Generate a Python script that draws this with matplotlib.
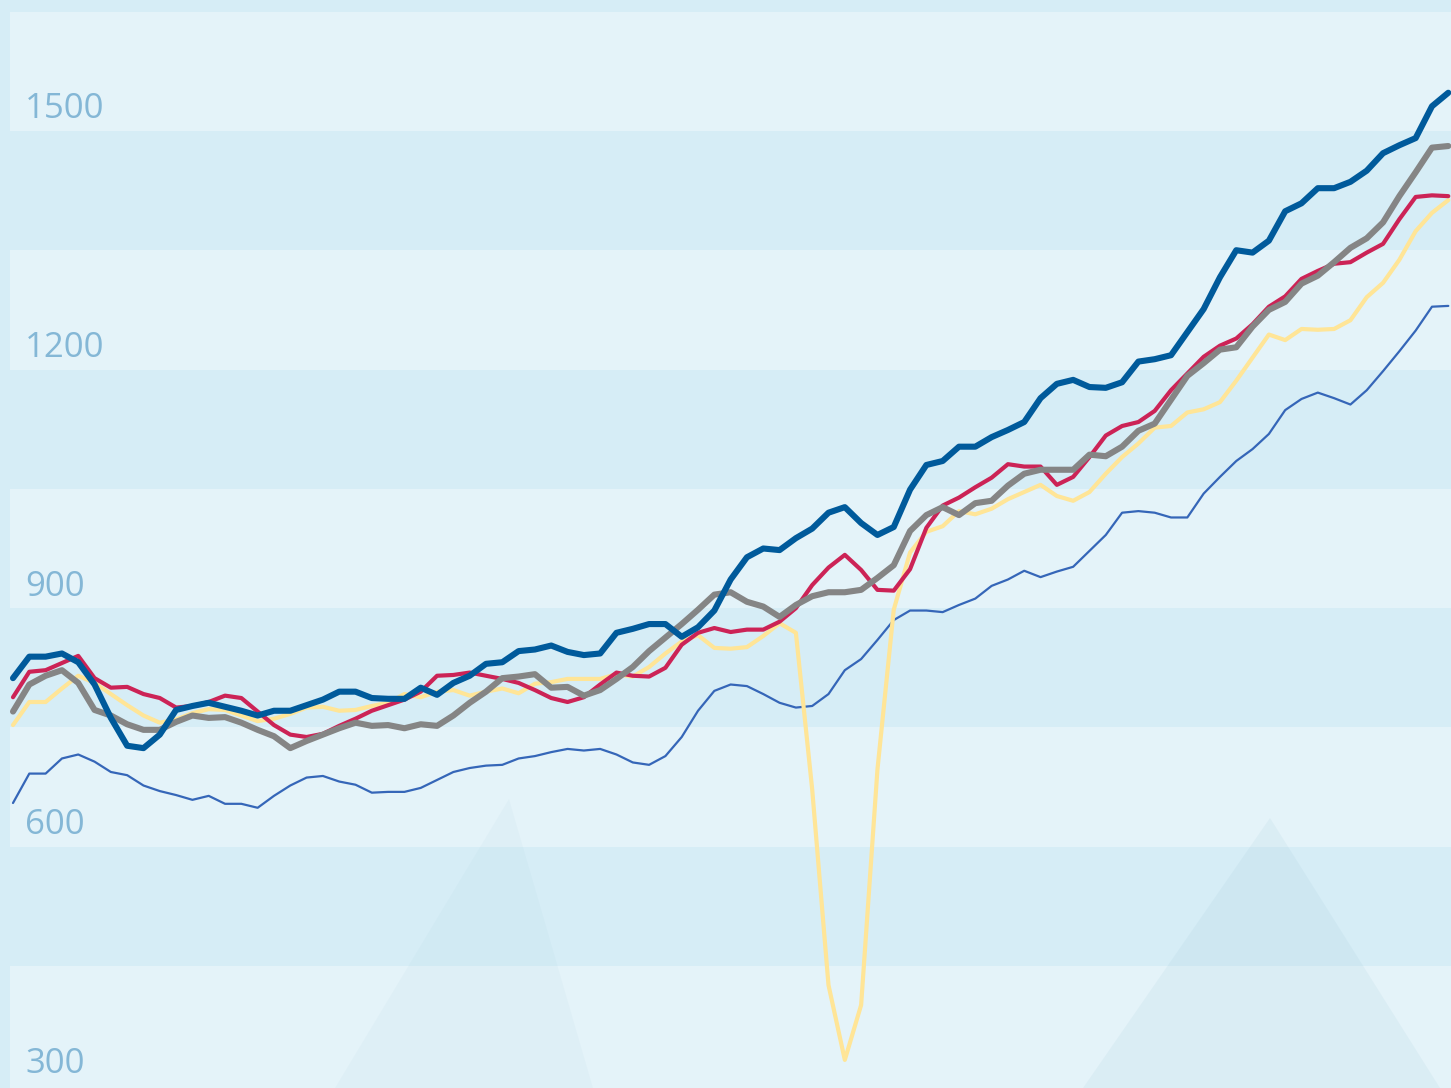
import matplotlib
matplotlib.use("Agg")
import matplotlib.pyplot as plt
from matplotlib.patches import Polygon

# x = sample index (roughly every second month), y = value
x_idx = list(range(89))

navy = [812, 839, 839, 843, 832, 804, 762, 727, 724, 741,
        772, 777, 781, 776, 771, 765, 771, 771, 778, 785,
        795, 795, 787, 786, 786, 800, 791, 806, 815, 830,
        832, 846, 848, 853, 845, 841, 843, 869, 874, 880,
        880, 864, 876, 897, 936, 964, 975, 973, 988, 1000,
        1020, 1027, 1007, 992, 1002, 1049, 1080, 1085, 1103, 1103,
        1115, 1124, 1134, 1164, 1182, 1187, 1178, 1177, 1184, 1210,
        1213, 1218, 1247, 1276, 1316, 1350, 1347, 1362, 1399, 1409,
        1428, 1428, 1436, 1450, 1472, 1482, 1491, 1531, 1548]

crimson = [788, 820, 822, 831, 840, 812, 800, 801, 792, 787,
           775, 777, 782, 790, 787, 770, 753, 741, 738, 742,
           752, 761, 771, 778, 785, 795, 815, 816, 819, 815,
           811, 806, 797, 787, 782, 788, 804, 819, 815, 814,
           825, 854, 869, 875, 870, 873, 873, 883, 900, 929,
           951, 967, 948, 923, 922, 949, 1001, 1029, 1039, 1052,
           1064, 1081, 1078, 1078, 1055, 1065, 1090, 1117, 1129, 1134,
           1148, 1174, 1195, 1216, 1230, 1239, 1257, 1279, 1292, 1314,
           1324, 1333, 1335, 1347, 1358, 1389, 1417, 1419, 1418]

grey = [770, 804, 815, 822, 806, 772, 765, 754, 747, 747,
        757, 765, 762, 763, 756, 747, 739, 724, 733, 741,
        749, 756, 752, 753, 749, 754, 752, 765, 781, 795,
        812, 814, 817, 800, 801, 790, 797, 811, 826, 846,
        863, 880, 898, 917, 920, 908, 902, 889, 904, 915,
        920, 920, 923, 938, 954, 997, 1017, 1027, 1017, 1032,
        1035, 1054, 1069, 1074, 1074, 1074, 1093, 1091, 1103, 1123,
        1132, 1162, 1192, 1208, 1225, 1228, 1254, 1275, 1285, 1308,
        1318, 1335, 1353, 1365, 1385, 1418, 1448, 1479, 1481]

yellow = [753, 782, 782, 799, 815, 806, 792, 778, 765, 756,
          760, 768, 773, 772, 765, 758, 761, 767, 775, 776,
          771, 772, 777, 781, 792, 788, 795, 797, 790, 795,
          799, 793, 805, 807, 811, 811, 811, 817, 814, 826,
          843, 858, 866, 850, 849, 851, 865, 881, 869, 672,
          426, 332, 401, 697, 898, 970, 996, 1003, 1022, 1018,
          1025, 1037, 1046, 1055, 1041, 1035, 1046, 1069, 1090, 1107,
          1127, 1129, 1146, 1150, 1159, 1186, 1215, 1244, 1237, 1251,
          1250, 1251, 1262, 1291, 1309, 1338, 1374, 1397, 1413]

steel = [655, 692, 692, 711, 716, 707, 694, 690, 677, 670,
         665, 659, 664, 654, 654, 649, 664, 677, 687, 689,
         682, 678, 668, 669, 669, 674, 684, 694, 699, 702,
         703, 711, 714, 719, 723, 721, 723, 716, 706, 703,
         714, 738, 771, 796, 804, 802, 792, 781, 775, 777,
         792, 822, 836, 860, 885, 897, 897, 895, 904, 912,
         928, 936, 947, 939, 946, 952, 972, 992, 1020, 1022,
         1020, 1014, 1014, 1044, 1065, 1085, 1100, 1119, 1149, 1163,
         1171, 1164, 1156, 1174, 1198, 1223, 1249, 1279, 1280]

tick_values = [300, 600, 900, 1200, 1500]
tick_labels = ["300", "600", "900", "1200", "1500"]

DARK = "#d6edf6"
LIGHT = "#e4f3f9"
W, H = 1451, 1088
Y_MIN, Y_MAX = 296.7, 1664.6

fig = plt.figure(figsize=(W / 100, H / 100), dpi=100)
fig.patch.set_facecolor(DARK)
ax = fig.add_axes([10 / W, 0, 1441 / W, 1])
ax.set_axis_off()
ax.set_xlim(-0.184, 88.166)
ax.set_ylim(Y_MIN, Y_MAX)

# alternating bands
for v in tick_values:
    lo = Y_MIN if v == tick_values[0] else v
    ax.axhspan(lo, v + 150, color=LIGHT, lw=0, zorder=0)

# faint background triangles
for pts, a in [([(509, 799), (335, 1088), (593, 1088)], 0.05),
               ([(1270, 818), (1083, 1088), (1440, 1088)], 0.09)]:
    poly = Polygon([(px / W, 1 - py / H) for px, py in pts], closed=True,
                   transform=fig.transFigure, facecolor="#7fb3c8", alpha=a,
                   lw=0, zorder=0.5)
    ax.add_patch(poly)

# y labels sit just above their value, inside the plot
for v, lab in zip(tick_values, tick_labels):
    ax.annotate(lab, xy=(15 / 1441, v), xycoords=ax.get_yaxis_transform(),
                xytext=(0, 9), textcoords="offset points", ha="left",
                va="baseline", fontsize=25, color="#84b7d6",
                family="Open Sans", zorder=1)

kw = dict(solid_joinstyle="round", solid_capstyle="round")
ax.plot(x_idx, steel, color="#3566b8", lw=1.6, zorder=2, **kw)
ax.plot(x_idx, yellow, color="#ffe597", lw=3.0, zorder=3, **kw)
ax.plot(x_idx, crimson, color="#cc2356", lw=3.0, zorder=4, **kw)
ax.plot(x_idx, grey, color="#858585", lw=4.4, zorder=5, **kw)
ax.plot(x_idx, navy, color="#005a9b", lw=4.4, zorder=6, **kw)

fig.savefig("out.png", dpi=100, facecolor=fig.get_facecolor())
